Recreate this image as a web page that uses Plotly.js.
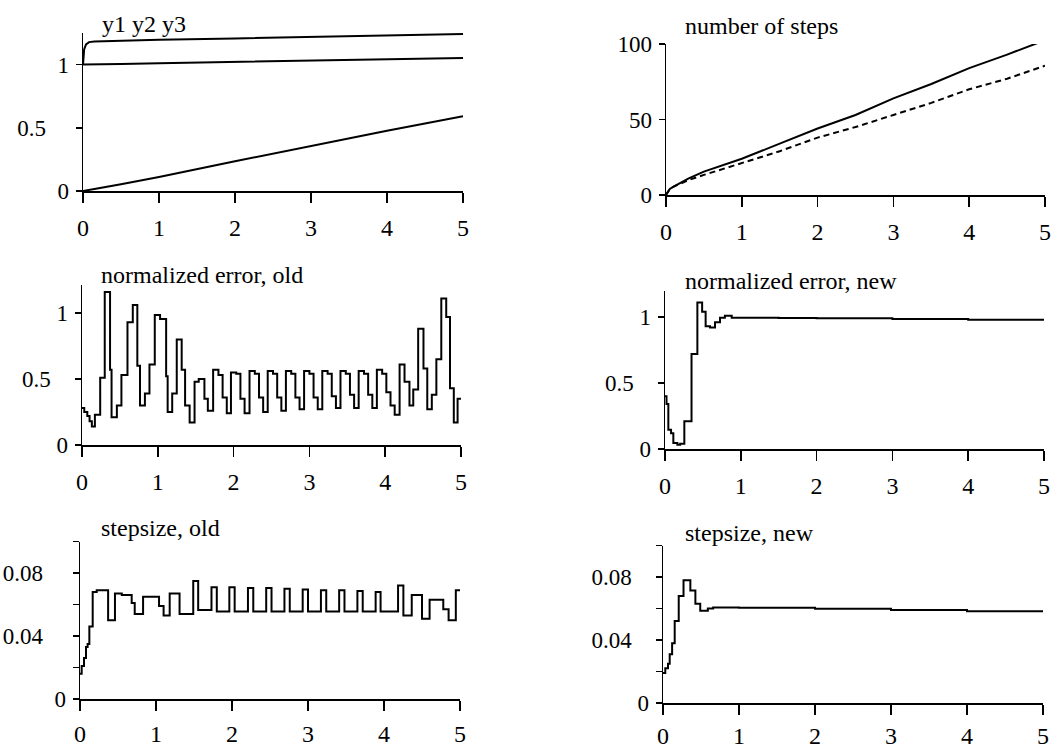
<!DOCTYPE html>
<html>
<head>
<meta charset="utf-8">
<script src="https://cdn.plot.ly/plotly-3.0.1.min.js"></script>
<style>html,body{margin:0;padding:0;background:#fff;}#chart{width:1054px;height:751px;}</style>
</head>
<body>
<div id="chart"></div>
<script>
// ---------- DATA ----------
// Panel 1: y1 y2 y3
const tY = [0, 0.005, 0.015, 0.04, 0.08, 0.15, 0.5, 1, 2, 3, 4, 5];
const y1 = [1.0, 1.07, 1.12, 1.16, 1.178, 1.183, 1.19, 1.196, 1.207, 1.218, 1.23, 1.242];
const y2 = [1.0, 1.0, 1.0, 1.0, 1.001, 1.002, 1.005, 1.011, 1.021, 1.032, 1.042, 1.053];
const y3 = [0, 0.0005, 0.0015, 0.004, 0.008, 0.016, 0.054, 0.11, 0.235, 0.357, 0.476, 0.592];

// Panel 2: number of steps
const tSteps = [0, 0.02, 0.05, 0.1, 0.2, 0.3, 0.5, 1, 1.5, 2, 2.5, 3, 3.5, 4, 4.5, 5];
const stepsOld = [0, 2, 4, 5.5, 8.5, 11, 15.5, 24, 34, 44, 53, 64, 73.5, 84, 93, 102.5];
const stepsNew = [0, 2, 4, 5.5, 8, 10, 13.3, 21, 29, 38, 45, 53, 61, 70, 77, 85.6];

// Panel 3: normalized error, old
const tErrOld = [0, 0.03, 0.07, 0.10, 0.13, 0.17, 0.24, 0.30, 0.37, 0.39, 0.46, 0.52, 0.60, 0.67, 0.73, 0.765, 0.83, 0.89, 0.96, 1.03, 1.11, 1.13, 1.19, 1.25, 1.315, 1.36, 1.42, 1.485, 1.54, 1.615, 1.66,
  1.73, 1.80, 1.855, 1.91, 1.965, 2.035, 2.09, 2.145, 2.21, 2.28, 2.335, 2.39, 2.45, 2.52, 2.575, 2.63, 2.69, 2.76, 2.815, 2.87, 2.93, 3.00, 3.055, 3.11,
  3.17, 3.24, 3.295, 3.35, 3.41, 3.48, 3.535, 3.59, 3.65, 3.72, 3.775, 3.83, 3.89, 3.96, 4.015, 4.07, 4.125, 4.19, 4.255, 4.32, 4.37, 4.435, 4.505, 4.555, 4.615, 4.675, 4.74, 4.805, 4.855, 4.905, 4.955, 5];
const errOld = [0.28, 0.25, 0.22, 0.18, 0.14, 0.23, 0.51, 1.16, 0.57, 0.21, 0.30, 0.53, 0.93, 1.06, 0.60, 0.30, 0.39, 0.61, 0.985, 0.955, 0.52, 0.25, 0.39, 0.80, 0.57, 0.30, 0.17, 0.48, 0.50, 0.35, 0.26,
  0.57, 0.53, 0.36, 0.24, 0.55, 0.54, 0.35, 0.24, 0.56, 0.54, 0.36, 0.25, 0.56, 0.54, 0.36, 0.26, 0.56, 0.54, 0.36, 0.27, 0.56, 0.54, 0.36, 0.27,
  0.56, 0.54, 0.37, 0.28, 0.56, 0.54, 0.38, 0.28, 0.56, 0.54, 0.38, 0.28, 0.57, 0.54, 0.40, 0.30, 0.23, 0.61, 0.48, 0.30, 0.42, 0.88, 0.58, 0.27, 0.38, 0.65, 1.11, 0.97, 0.43, 0.17, 0.35, 0.35];

// Panel 4: normalized error, new
const tErrNew = [0, 0.02, 0.044, 0.08, 0.11, 0.163, 0.2, 0.255, 0.35, 0.427, 0.49, 0.536, 0.594, 0.66, 0.726, 0.79, 0.88, 1.5, 2, 3, 4, 5];
const errNew = [0.40, 0.34, 0.146, 0.12, 0.045, 0.033, 0.04, 0.21, 0.72, 1.11, 1.04, 0.93, 0.92, 0.96, 0.995, 1.01, 0.995, 0.993, 0.99, 0.985, 0.98, 0.975];

// Panel 5: stepsize, old
const tSsOld = [0, 0.022, 0.053, 0.079, 0.10, 0.123, 0.167, 0.22, 0.37, 0.46, 0.55, 0.68, 0.72, 0.83, 1.04, 1.10, 1.18, 1.31, 1.49, 1.555,
  1.73, 1.80, 1.965, 2.035, 2.21, 2.28, 2.45, 2.52, 2.69, 2.76, 2.93, 3.00, 3.17, 3.24, 3.41, 3.48, 3.65, 3.72, 3.89, 3.955,
  4.185, 4.255, 4.365, 4.50, 4.60, 4.78, 4.85, 4.945, 5];
const ssOld = [0.016, 0.021, 0.026, 0.033, 0.035, 0.046, 0.068, 0.069, 0.050, 0.067, 0.066, 0.061, 0.054, 0.065, 0.059, 0.053, 0.067, 0.054, 0.075, 0.0565,
  0.071, 0.0555, 0.071, 0.0555, 0.0705, 0.0555, 0.0705, 0.0555, 0.070, 0.0555, 0.0695, 0.0555, 0.069, 0.0555, 0.069, 0.0555, 0.0685, 0.0555, 0.068, 0.0555,
  0.072, 0.053, 0.066, 0.051, 0.063, 0.057, 0.050, 0.069, 0.069];

// Panel 6: stepsize, new
const tSsNew = [0, 0.03, 0.066, 0.088, 0.12, 0.154, 0.207, 0.27, 0.36, 0.426, 0.49, 0.59, 0.66, 1, 2, 3, 4, 5];
const ssNew = [0.019, 0.022, 0.025, 0.031, 0.038, 0.052, 0.068, 0.078, 0.0715, 0.063, 0.0586, 0.060, 0.0607, 0.0605, 0.0598, 0.059, 0.0582, 0.0576];

// Titles and ticks
const titles = ['y1 y2 y3', 'number of steps', 'normalized error, old', 'normalized error, new', 'stepsize, old', 'stepsize, new'];
const xTicks = [0, 1, 2, 3, 4, 5];
const xTickText = ['0', '1', '2', '3', '4', '5'];
const NB = '\u00a0';
const yTicks = [[0, 0.5, 1], [0, 50, 100], [0, 0.5, 1], [0, 0.5, 1], [0, 0.04, 0.08], [0, 0.04, 0.08]];
const yTickText = [
  ['0', '0.5' + NB.repeat(4), '1'],
  ['0', '50', '100'],
  ['0', '0.5' + NB.repeat(3), '1'],
  ['0', '0.5' + NB.repeat(3), '1'],
  ['0', '0.04' + NB.repeat(4), '0.08' + NB.repeat(4)],
  ['0', '0.04' + NB.repeat(3), '0.08' + NB.repeat(3)]
];

// ---------- LAYOUT GEOMETRY (pixels) ----------
const W = 1054, H = 751;
const geo = [
  {x0: 83,  x1: 463,  y0: 191, y1: 33,    yr: [0, 1.25], tx: 100, ty: 24, so: 5},
  {x0: 666, x1: 1045, y0: 195, y1: 44,    yr: [0, 100],  tx: 683, ty: 26, so: 5},
  {x0: 82,  x1: 461,  y0: 445, y1: 285.3, yr: [0, 1.21], tx: 99,  ty: 275, so: 5},
  {x0: 665, x1: 1044, y0: 449, y1: 290.6, yr: [0, 1.2],  tx: 683, ty: 281, so: 5},
  {x0: 80,  x1: 460,  y0: 699, y1: 541.5, yr: [0, 0.1],  tx: 99,  ty: 528, so: 3},
  {x0: 663, x1: 1043, y0: 703, y1: 545.5, yr: [0, 0.1],  tx: 683, ty: 533, so: 1}
];

const LW = 2;
const lineStyle = {color: 'black', width: LW};
const traces = [
  {x: tY, y: y1, xaxis: 'x', yaxis: 'y', mode: 'lines', line: lineStyle},
  {x: tY, y: y2, xaxis: 'x', yaxis: 'y', mode: 'lines', line: lineStyle},
  {x: tY, y: y3, xaxis: 'x', yaxis: 'y', mode: 'lines', line: lineStyle},
  {x: tSteps, y: stepsOld, xaxis: 'x2', yaxis: 'y2', mode: 'lines', line: lineStyle},
  {x: tSteps, y: stepsNew, xaxis: 'x2', yaxis: 'y2', mode: 'lines', line: {color: 'black', width: LW, dash: '6px,4px'}},
  {x: tErrOld, y: errOld, xaxis: 'x3', yaxis: 'y3', mode: 'lines', line: Object.assign({shape: 'hv'}, lineStyle)},
  {x: tErrNew, y: errNew, xaxis: 'x4', yaxis: 'y4', mode: 'lines', line: Object.assign({shape: 'hv'}, lineStyle)},
  {x: tSsOld, y: ssOld, xaxis: 'x5', yaxis: 'y5', mode: 'lines', line: Object.assign({shape: 'hv'}, lineStyle)},
  {x: tSsNew, y: ssNew, xaxis: 'x6', yaxis: 'y6', mode: 'lines', line: Object.assign({shape: 'hv'}, lineStyle)}
];

const FONT = 'Liberation Serif';
const layout = {
  width: W, height: H,
  margin: {l: 0, r: 0, t: 0, b: 0},
  paper_bgcolor: 'white', plot_bgcolor: 'white',
  showlegend: false,
  font: {family: FONT, color: 'black'},
  annotations: []
};

geo.forEach((g, i) => {
  const n = i + 1;
  const xk = n === 1 ? 'xaxis' : 'xaxis' + n;
  const yk = n === 1 ? 'yaxis' : 'yaxis' + n;
  const xa = n === 1 ? 'x' : 'x' + n;
  const ya = n === 1 ? 'y' : 'y' + n;
  layout[xk] = {
    domain: [g.x0 / W, g.x1 / W], anchor: ya, range: [0, 5],
    tickmode: 'array', tickvals: xTicks, ticktext: xTickText,
    showline: true, linecolor: 'black', linewidth: 1.5,
    ticks: 'outside', ticklen: 10, tickwidth: 1.5, tickcolor: 'black',
    ticklabelstandoff: g.so,
    showgrid: false, zeroline: false, automargin: false,
    tickfont: {family: FONT, size: 24, color: 'black'}
  };
  const yax = {
    domain: [1 - g.y0 / H, 1 - g.y1 / H], anchor: xa, range: g.yr,
    tickmode: 'array', tickvals: yTicks[i], ticktext: yTickText[i],
    showline: true, linecolor: 'black', linewidth: 1.5,
    ticks: 'outside', ticklen: 6, tickwidth: 1.5, tickcolor: 'black',
    ticklabelstandoff: 2,
    showgrid: false, zeroline: false, automargin: false,
    tickfont: {family: FONT, size: 23, color: 'black'}
  };
  if (i >= 4) {
    yax.minor = {tickmode: 'array', tickvals: [0.02, 0.06, 0.1], ticks: 'outside', ticklen: 6, tickwidth: 1.5, tickcolor: 'black', showgrid: false};
  }
  layout[yk] = yax;
  layout.annotations.push({
    text: titles[i], xref: 'paper', yref: 'paper',
    x: g.tx / W, y: 1 - g.ty / H, xanchor: 'left', yanchor: 'middle',
    showarrow: false, font: {family: FONT, size: 24, color: 'black'}
  });
});

Plotly.newPlot('chart', traces, layout, {displayModeBar: false, staticPlot: true});
</script>
</body>
</html>
